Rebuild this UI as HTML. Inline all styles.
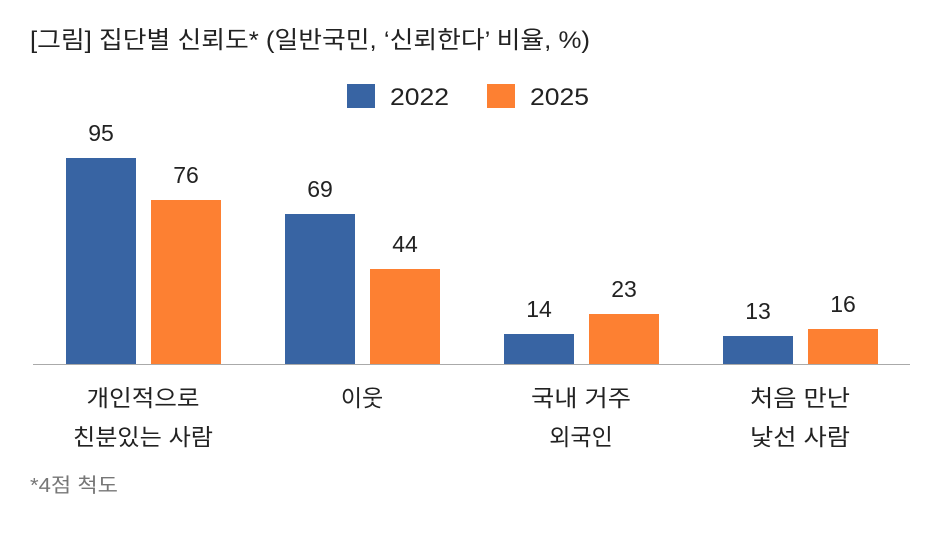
<!DOCTYPE html>
<html><head><meta charset="utf-8"><style>
body{margin:0;background:#fff;}
svg text{font-family:"Liberation Sans","Noto Sans CJK KR",sans-serif;}
</style></head><body>
<svg width="938" height="532" xmlns="http://www.w3.org/2000/svg">
<rect width="938" height="532" fill="#fff"/>
<text x="30" y="48" font-size="24" fill="#222" textLength="560" lengthAdjust="spacingAndGlyphs">[그림] 집단별 신뢰도* (일반국민, ‘신뢰한다’ 비율, %)</text>
<rect x="347" y="84" width="28" height="24" fill="#3864a3"/>
<text x="390" y="105" font-size="24" fill="#222" textLength="59" lengthAdjust="spacingAndGlyphs">2022</text>
<rect x="487" y="84" width="28" height="24" fill="#fd8032"/>
<text x="530" y="105" font-size="24" fill="#222" textLength="59" lengthAdjust="spacingAndGlyphs">2025</text>
<g fill="#3864a3">
<rect x="66" y="158" width="70" height="206"/>
<rect x="285" y="214" width="70" height="150"/>
<rect x="504" y="334" width="70" height="30"/>
<rect x="723" y="336" width="70" height="28"/>
</g>
<g fill="#fd8032">
<rect x="151" y="200" width="70" height="164"/>
<rect x="370" y="269" width="70" height="95"/>
<rect x="589" y="314" width="70" height="50"/>
<rect x="808" y="329" width="70" height="35"/>
</g>
<line x1="33" y1="364.5" x2="910" y2="364.5" stroke="#aaa" stroke-width="1"/>
<g font-size="23" fill="#222" text-anchor="middle">
<text x="101" y="141">95</text><text x="186" y="183">76</text>
<text x="320" y="197">69</text><text x="405" y="252">44</text>
<text x="539" y="317">14</text><text x="624" y="297">23</text>
<text x="758" y="319">13</text><text x="843" y="312">16</text>
</g>
<g font-size="23" fill="#222" text-anchor="middle">
<text x="143" y="406" textLength="113" lengthAdjust="spacingAndGlyphs">개인적으로</text>
<text x="143" y="445" textLength="140" lengthAdjust="spacingAndGlyphs">친분있는 사람</text>
<text x="362" y="406">이웃</text>
<text x="581" y="406" textLength="100" lengthAdjust="spacingAndGlyphs">국내 거주</text><text x="581" y="445">외국인</text>
<text x="800" y="406" textLength="100" lengthAdjust="spacingAndGlyphs">처음 만난</text>
<text x="800" y="445" textLength="100" lengthAdjust="spacingAndGlyphs">낯선 사람</text>
</g>
<text x="30" y="492" font-size="20" fill="#777" textLength="88" lengthAdjust="spacingAndGlyphs">*4점 척도</text>
</svg>
</body></html>
